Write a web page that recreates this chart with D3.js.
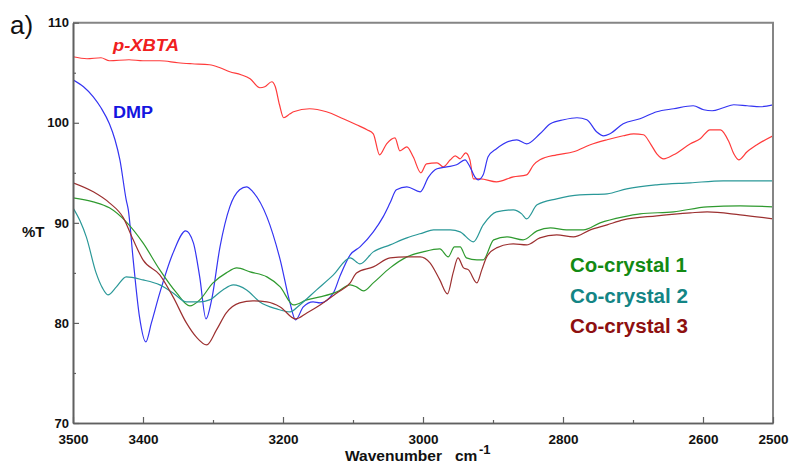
<!DOCTYPE html>
<html>
<head>
<meta charset="utf-8">
<script src="https://cdn.jsdelivr.net/npm/d3@7"></script>
<style>
  html, body { margin: 0; padding: 0; background: #fff; }
  svg { display: block; font-family: "Liberation Sans", Arial, sans-serif; }
</style>
</head>
<body>
<div id="chart"></div>
<script>
// IR spectra, %T against wavenumber
const xbtaWn = [3500, 3480, 3460, 3448, 3420, 3400, 3376, 3350, 3330, 3305, 3290, 3276, 3260, 3247, 3233, 3226, 3216, 3211, 3205, 3199, 3190, 3185, 3162, 3138, 3114, 3095, 3080, 3071, 3062, 3052, 3040, 3033, 3023, 3014, 3003, 2995, 2980, 2971, 2961, 2954, 2947, 2939, 2933, 2928, 2918, 2895, 2871, 2852, 2842, 2833, 2809, 2785, 2761, 2737, 2714, 2699, 2685, 2675, 2666, 2656, 2642, 2618, 2604, 2590, 2575, 2563, 2556, 2549, 2537, 2523, 2500]
const xbtaT = [106.6, 106.4, 106.5, 106.2, 106.3, 106.2, 106.2, 106.0, 105.9, 105.8, 105.5, 105.1, 104.8, 104.4, 103.5, 103.6, 104.1, 103.6, 101.8, 100.5, 100.9, 101.1, 101.4, 101.1, 100.4, 99.8, 99.3, 98.9, 96.8, 97.9, 98.5, 97.2, 97.6, 96.6, 95.0, 95.9, 96.0, 95.6, 96.3, 96.7, 96.4, 97.0, 96.3, 94.4, 94.4, 94.1, 94.6, 94.8, 95.8, 96.3, 96.8, 97.1, 97.8, 98.3, 98.7, 98.9, 98.8, 97.9, 96.9, 96.4, 96.8, 97.9, 98.4, 99.3, 99.3, 98.1, 96.9, 96.3, 97.1, 97.8, 98.7]

const dmpWn = [3500, 3485, 3471, 3460, 3448, 3440, 3433, 3424, 3421, 3414, 3405, 3396, 3388, 3376, 3357, 3339, 3328, 3319, 3310, 3302, 3290, 3276, 3262, 3252, 3243, 3223, 3204, 3190, 3182, 3171, 3157, 3147, 3128, 3119, 3104, 3090, 3071, 3057, 3047, 3038, 3023, 3004, 2992, 2980, 2966, 2952, 2940, 2933, 2926, 2921, 2914, 2907, 2895, 2866, 2852, 2833, 2818, 2799, 2780, 2766, 2752, 2742, 2733, 2714, 2690, 2666, 2642, 2614, 2599, 2587, 2571, 2556, 2537, 2518, 2500]
const dmpT = [104.3, 103.6, 102.6, 101.5, 99.9, 98.3, 96.3, 92.3, 91.3, 86.3, 80.6, 78.1, 80.0, 83.0, 87.0, 89.2, 88.0, 84.6, 80.4, 82.3, 87.6, 91.6, 93.3, 93.6, 93.1, 90.6, 86.3, 82.0, 80.3, 81.6, 82.1, 82.0, 83.0, 84.6, 86.8, 87.6, 89.1, 90.6, 92.0, 93.3, 93.6, 93.1, 94.6, 95.4, 95.6, 95.8, 96.3, 95.6, 94.6, 94.3, 94.8, 96.6, 97.4, 98.3, 97.9, 98.9, 99.9, 100.3, 100.5, 100.3, 99.1, 98.7, 98.9, 99.9, 100.4, 101.1, 101.4, 101.7, 101.3, 101.2, 101.5, 101.8, 101.7, 101.6, 101.8]

const cc1Wn = [3500, 3471, 3448, 3424, 3400, 3376, 3352, 3333, 3319, 3300, 3281, 3266, 3247, 3223, 3204, 3185, 3166, 3147, 3123, 3104, 3095, 3085, 3071, 3047, 3023, 3000, 2976, 2964, 2955, 2947, 2938, 2923, 2914, 2899, 2880, 2857, 2837, 2818, 2795, 2771, 2747, 2714, 2690, 2642, 2594, 2547, 2500]
const cc1T = [92.5, 92.1, 91.5, 90.1, 88.0, 85.3, 83.0, 81.7, 82.3, 84.0, 85.0, 85.5, 85.1, 84.6, 83.6, 81.8, 82.3, 82.6, 83.1, 83.8, 83.6, 83.2, 84.0, 85.5, 86.6, 87.1, 87.4, 86.6, 87.6, 87.6, 86.5, 86.3, 86.3, 88.3, 88.6, 88.3, 89.2, 89.5, 89.3, 89.3, 90.0, 90.6, 90.9, 91.1, 91.6, 91.7, 91.6]

const cc2Wn = [3500, 3490, 3481, 3467, 3458, 3450, 3438, 3424, 3400, 3376, 3357, 3338, 3319, 3305, 3286, 3271, 3252, 3233, 3209, 3190, 3176, 3152, 3128, 3104, 3090, 3071, 3047, 3023, 3000, 2985, 2961, 2947, 2928, 2914, 2895, 2871, 2859, 2852, 2837, 2809, 2776, 2737, 2709, 2666, 2618, 2571, 2500]
const cc2T = [91.5, 90.2, 88.6, 85.0, 83.5, 82.8, 83.6, 84.6, 84.3, 83.8, 83.0, 82.1, 82.1, 82.3, 83.3, 83.8, 83.3, 82.1, 81.4, 81.1, 81.8, 83.3, 84.8, 86.5, 85.9, 87.1, 87.8, 88.5, 89.0, 89.3, 89.3, 89.1, 88.1, 89.8, 91.1, 91.3, 90.9, 90.4, 91.8, 92.4, 92.8, 92.9, 93.4, 93.8, 94.0, 94.2, 94.2]

const cc3Wn = [3500, 3471, 3448, 3428, 3414, 3400, 3376, 3357, 3338, 3324, 3309, 3295, 3281, 3262, 3243, 3223, 3204, 3182, 3166, 3147, 3123, 3104, 3095, 3071, 3047, 3023, 3004, 2990, 2976, 2965, 2957, 2950, 2942, 2935, 2923, 2916, 2909, 2895, 2871, 2852, 2833, 2809, 2785, 2761, 2737, 2714, 2666, 2618, 2594, 2547, 2500]
const cc3T = [94.0, 93.1, 92.0, 90.5, 88.3, 86.3, 84.8, 82.6, 80.0, 78.6, 77.8, 79.3, 81.0, 82.0, 82.2, 82.1, 81.6, 80.4, 81.0, 81.8, 83.0, 84.0, 85.0, 85.6, 86.5, 86.6, 86.6, 86.0, 84.3, 82.9, 85.0, 86.5, 85.5, 85.3, 84.0, 85.3, 86.6, 87.5, 87.9, 87.8, 88.5, 88.8, 88.6, 89.3, 89.8, 90.3, 90.7, 91.0, 91.1, 90.8, 90.4]

const seriesNames = ["p-XBTA", "DMP", "Co-crystal 1", "Co-crystal 2", "Co-crystal 3"]

// tick labels
const xLabelTicks = [3500, 3400, 3200, 3000, 2800, 2600, 2500]
const xMinorTicks = [3300, 3100, 2900, 2700]
const yMajorTicks = [70, 80, 90, 100, 110]
const yMinorTicks = [75, 85, 95, 105]

const W = 789, H = 463
const plot = { left: 73, right: 773, top: 22.7, bottom: 423 }

const lineColors = ["#ff3b3b", "#3434f2", "#2f9a2f", "#2a9898", "#9c3030"]
const textColors = ["#f02020", "#1515e0", "#138a13", "#138585", "#8e1010"]

const series = [
  { wn: xbtaWn, t: xbtaT },
  { wn: dmpWn, t: dmpT },
  { wn: cc1Wn, t: cc1T },
  { wn: cc2Wn, t: cc2T },
  { wn: cc3Wn, t: cc3T }
].map((s, i) => ({
  name: seriesNames[i],
  values: s.wn.map((w, j) => ({ w: w, t: s.t[j] }))
}))

const svg = d3.select("#chart").append("svg")
  .attr("width", W)
  .attr("height", H)

const x = d3.scaleLinear().domain([3500, 2500]).range([plot.left, plot.right])
const y = d3.scaleLinear().domain([70, 110]).range([plot.bottom, plot.top])

svg.append("clipPath").attr("id", "clip")
  .append("rect")
  .attr("x", plot.left).attr("y", plot.top)
  .attr("width", plot.right - plot.left).attr("height", plot.bottom - plot.top)

// spectra
const line = d3.line()
  .x(d => x(d.w))
  .y(d => y(d.t))
  .curve(d3.curveMonotoneX)

svg.append("g").attr("clip-path", "url(#clip)")
  .selectAll("path")
  .data(series)
  .join("path")
  .attr("d", d => line(d.values))
  .attr("fill", "none")
  .attr("stroke", (d, i) => lineColors[i])
  .attr("stroke-width", 1.2)

// frame top + right (lighter grey)
svg.append("path")
  .attr("d", "M" + plot.left + "," + plot.top + "H" + plot.right + "V" + plot.bottom)
  .attr("fill", "none")
  .attr("stroke", "#858585")
  .attr("stroke-width", 2)

// axes, ticks point inward
const fmt = d3.format("d")
const yAxis = svg.append("g")
  .attr("transform", "translate(" + plot.left + ",0)")
  .call(d3.axisLeft(y).tickValues(yMajorTicks).tickSizeInner(-6).tickSizeOuter(0).tickPadding(4).tickFormat(fmt))
svg.append("g")
  .attr("transform", "translate(" + plot.left + ",0)")
  .call(d3.axisLeft(y).tickValues(yMinorTicks).tickSizeInner(-3).tickSizeOuter(0).tickFormat(""))

const xAxis = svg.append("g")
  .attr("transform", "translate(0," + plot.bottom + ")")
  .call(d3.axisBottom(x).tickValues(xLabelTicks).tickSizeInner(-6).tickSizeOuter(0).tickPadding(11).tickFormat(fmt))
svg.append("g")
  .attr("transform", "translate(0," + plot.bottom + ")")
  .call(d3.axisBottom(x).tickValues(xMinorTicks).tickSizeInner(-3).tickSizeOuter(0).tickFormat(""))

svg.selectAll(".domain").attr("stroke", "#606060").attr("stroke-width", 1.6)
svg.selectAll(".tick line").attr("stroke", "#606060").attr("stroke-width", 1.2)
svg.selectAll(".tick text")
  .attr("fill", "#111")
  .style("font-weight", "bold")
yAxis.selectAll(".tick text").style("font-size", "13px")
xAxis.selectAll(".tick text").style("font-size", "13.5px")

// texts
svg.append("text")
  .attr("x", 10).attr("y", 34)
  .style("font-size", "26px")
  .attr("fill", "#111")
  .text("a)")

svg.append("text")
  .attr("x", 22).attr("y", 237)
  .style("font-size", "15px").style("font-weight", "bold")
  .attr("fill", "#111")
  .text("%T")

svg.append("text")
  .attr("x", 345).attr("y", 461)
  .attr("textLength", 97).attr("lengthAdjust", "spacingAndGlyphs")
  .style("font-size", "15.5px").style("font-weight", "bold")
  .attr("fill", "#111")
  .text("Wavenumber")
svg.append("text")
  .attr("x", 455).attr("y", 461)
  .style("font-size", "15.5px").style("font-weight", "bold")
  .attr("fill", "#111")
  .text("cm")
svg.append("text")
  .attr("x", 479).attr("y", 454)
  .style("font-size", "13px").style("font-weight", "bold")
  .attr("fill", "#111")
  .text("-1")

// series labels
const labelPos = [
  { x: 113, y: 50.5, len: 66, size: 16, italic: true },
  { x: 113, y: 118, len: 40, size: 16, italic: false },
  { x: 570, y: 272, len: 117, size: 19.5, italic: false },
  { x: 570, y: 303, len: 118, size: 19.5, italic: false },
  { x: 570, y: 333, len: 118, size: 19.5, italic: false }
]
svg.append("g")
  .selectAll("text")
  .data(series)
  .join("text")
  .attr("x", (d, i) => labelPos[i].x)
  .attr("y", (d, i) => labelPos[i].y)
  .attr("textLength", (d, i) => labelPos[i].len)
  .attr("lengthAdjust", "spacingAndGlyphs")
  .style("font-size", (d, i) => labelPos[i].size + "px")
  .style("font-weight", "bold")
  .style("font-style", (d, i) => labelPos[i].italic ? "italic" : "normal")
  .attr("fill", (d, i) => textColors[i])
  .text(d => d.name)
</script>
</body>
</html>
